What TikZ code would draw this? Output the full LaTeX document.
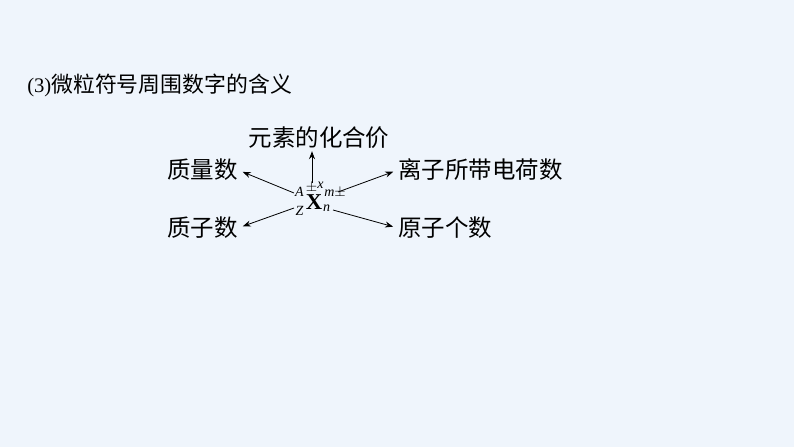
\documentclass[tikz,border=0pt]{standalone}
\usepackage{fontspec}
\setmainfont{Liberation Serif}
\newfontfamily\cjk{Noto Sans CJK SC}
\usetikzlibrary{arrows.meta}
\definecolor{bg}{RGB}{239,245,252}
\begin{document}
\begin{tikzpicture}[x=0.75pt,y=-0.75pt,
  lbl/.style={font=\fontsize{17.6}{20}\selectfont\cjk, inner sep=0pt},
  arr/.style={-{Stealth[length=6pt,width=4.5pt]}, line width=0.6pt},
  sm/.style={font=\fontsize{10.5}{11}\selectfont\itshape, inner sep=0pt}]
\fill[bg] (0,0) rectangle (794,447);
\useasboundingbox (0,0) rectangle (794,447);
% title
\node[anchor=west, inner sep=0pt] (title) at (27,85)
  {\fontsize{15.5}{20}\selectfont (3)\fontsize{16.4}{20}\selectfont\cjk 微粒符号周围数字的含义};
% labels
\node[lbl] (top) at (319,138) {元素的化合价};
\node[lbl, anchor=east] (zl) at (238,170) {质量数};
\node[lbl, anchor=east] (zz) at (238,228) {质子数};
\node[lbl, anchor=west] (lz) at (398,170) {离子所带电荷数};
\node[lbl, anchor=west] (yz) at (398,228) {原子个数};
% notation
\node[inner sep=0pt, font=\fontsize{17}{18}\selectfont\bfseries] (X) at (314,202) {X};
\node[sm] (nA) at (299.5,192) {A};
\node[sm] (nZ) at (299.5,211) {Z};
\node[inner sep=0pt, font=\fontsize{10.5}{11}\selectfont] (npm) at (311.5,187.5) {$\pm$};
\node[sm] (nx) at (320.5,185) {x};
\node[sm, anchor=west] (nm) at (324,193) {m$\pm$};
\node[sm] (nn) at (326.5,208) {n};
% connectors
\coordinate (sT) at (312,183);
\coordinate (sA) at (294,193);
\coordinate (sZ) at (294,208);
\coordinate (sM) at (338,192);
\coordinate (sN) at (333,210);
\draw[arr, shorten >=1.5pt] (sT) -- (sT |- top.south);
\draw[arr, shorten >=3.8pt] (sA) -- (zl.east);
\draw[arr, shorten >=3.8pt] (sZ) -- (zz.east);
\draw[arr, shorten >=3.8pt] (sM) -- (lz.west);
\draw[arr, shorten >=3.8pt] (sN) -- (yz.west);
\end{tikzpicture}
\end{document}
